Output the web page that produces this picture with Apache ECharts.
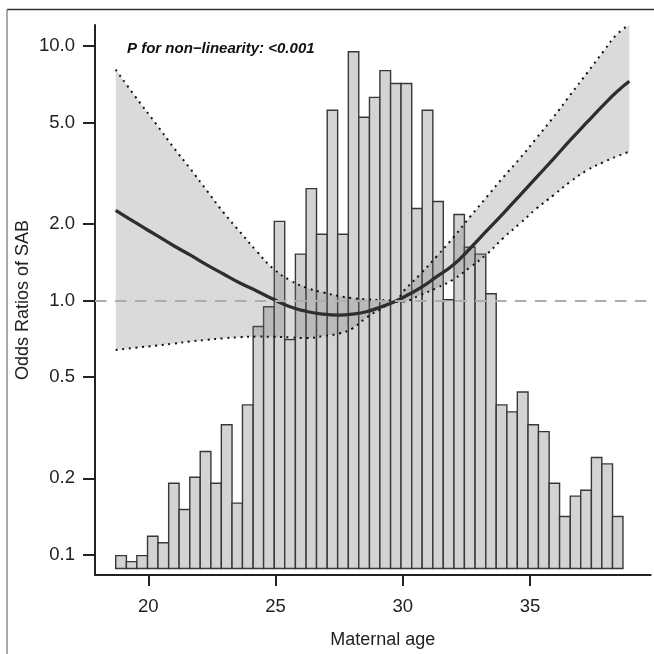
<!DOCTYPE html>
<html>
<head>
<meta charset="utf-8">
<script src="https://cdn.jsdelivr.net/npm/echarts@6/dist/echarts.min.js"></script>
<style>
  html, body { margin: 0; padding: 0; background: #fff; }
  #chart { width: 654px; height: 654px; }
</style>
</head>
<body>
<div id="chart"></div>
<script>
// histogram of maternal age: bin edges (years) and bar heights (relative frequency)
const binEdges = [18.72, 19.14, 19.55, 19.97, 20.38, 20.80, 21.21, 21.63, 22.04, 22.46,
  22.87, 23.29, 23.70, 24.12, 24.53, 24.95, 25.36, 25.78, 26.20, 26.61,
  27.03, 27.44, 27.86, 28.27, 28.69, 29.10, 29.52, 29.93, 30.35, 30.76,
  31.18, 31.59, 32.01, 32.42, 32.84, 33.26, 33.67, 34.09, 34.50, 34.92,
  35.33, 35.75, 36.16, 36.58, 36.99, 37.41, 37.82, 38.24, 38.65];
const binFreq = [13, 7, 13, 32.5, 26, 86, 59.5, 92, 118, 86,
  145, 66, 165, 244, 264, 350, 231, 317, 383, 337,
  462, 337, 521, 455, 475, 502, 489, 489, 363, 462,
  370, 271, 357, 324, 317, 277, 165, 158, 178, 145,
  138, 86, 52.5, 73, 79, 112, 105.5, 52.5];

// spline: odds ratio and 95% CI by maternal age
const splineAge = [18.72, 19.5, 20.33, 21.0, 21.64, 22.3, 22.95, 23.6, 24.26, 24.92,
  25.57, 26.23, 26.88, 27.5, 28.0, 28.6, 29.1, 29.7, 30.03, 30.69,
  31.33, 31.99, 32.64, 33.30, 33.95, 34.61, 35.26, 35.92, 36.57, 37.23,
  37.88, 38.41, 38.90];
const splineOR = [2.26, 2.02, 1.80, 1.64, 1.51, 1.38, 1.27, 1.17, 1.09, 1.01,
  0.945, 0.905, 0.883, 0.876, 0.883, 0.905, 0.94, 0.99, 1.03, 1.12,
  1.24, 1.38, 1.60, 1.88, 2.2, 2.59, 3.05, 3.6, 4.25, 5.0,
  5.85, 6.6, 7.26];
const ciLower = [0.639, 0.652, 0.665, 0.677, 0.69, 0.70, 0.71, 0.717, 0.721, 0.72,
  0.716, 0.712, 0.725, 0.742, 0.775, 0.86, 0.92, 0.985, 0.99, 1.05,
  1.12, 1.21, 1.35, 1.52, 1.76, 2.01, 2.30, 2.59, 2.92, 3.24,
  3.49, 3.68, 3.84];
const ciUpper = [8.06, 6.3, 4.9, 3.98, 3.3, 2.7, 2.22, 1.86, 1.56, 1.33,
  1.2, 1.12, 1.075, 1.04, 1.022, 1.01, 1.004, 1.0, 1.09, 1.27,
  1.49, 1.77, 2.13, 2.55, 3.05, 3.62, 4.35, 5.25, 6.4, 7.8,
  9.5, 11.1, 12.07];

const yTicks = [0.1, 0.2, 0.5, 1, 2, 5, 10];
const xTicks = [20, 25, 30, 35];

const font = "'Liberation Sans', Arial, sans-serif";

function renderChart() {
  const chart = echarts.init(document.getElementById('chart'));
  const dotted = { color: '#111', width: 2, type: [2, 4.6] };
  const option = {
    animation: false,
    textStyle: { fontFamily: font },
    title: {
      text: 'P for non\u2212linearity: <0.001',
      left: 122,
      top: 36,
      textStyle: { fontFamily: font, fontSize: 15, fontWeight: 'bold', fontStyle: 'italic', color: '#111' }
    },
    graphic: [
      { type: 'line', shape: { x1: 7, y1: 9.5, x2: 654, y2: 9.5 }, style: { stroke: '#333', lineWidth: 1.5 } },
      { type: 'line', shape: { x1: 7, y1: 9.5, x2: 7, y2: 654 }, style: { stroke: '#8c8c8c', lineWidth: 1.5 } }
    ],
    grid: { left: 95, right: 3.3, top: 25, bottom: 74.5 },
    xAxis: {
      type: 'value',
      min: 17.906,
      max: 39.74,
      name: 'Maternal age',
      nameLocation: 'middle',
      nameGap: 56,
      nameMoveOverlap: false,
      nameTextStyle: { fontFamily: font, fontSize: 18, color: '#222', padding: [0, 0, 0, 20] },
      axisLine: { onZero: false, lineStyle: { color: '#222', width: 2 } },
      axisTick: { customValues: xTicks, length: 11, lineStyle: { color: '#222', width: 2 } },
      axisLabel: { customValues: xTicks, margin: 22, fontSize: 18.5, color: '#222' },
      splitLine: { show: false }
    },
    yAxis: [
      {
        type: 'log',
        logBase: 10,
        min: 0.08349,
        max: 12.075,
        name: 'Odds Ratios of SAB',
        nameLocation: 'middle',
        nameGap: 63,
        nameMoveOverlap: false,
        nameTextStyle: { fontFamily: font, fontSize: 18, color: '#222' },
        axisLine: { show: true, lineStyle: { color: '#222', width: 2 } },
        axisTick: { show: true, customValues: yTicks, length: 12, lineStyle: { color: '#222', width: 2 } },
        axisLabel: {
          customValues: yTicks,
          margin: 20,
          fontSize: 18.5,
          color: '#222',
          formatter: v => Number(v).toFixed(1)
        },
        splitLine: { show: false }
      },
      {
        type: 'value',
        show: false,
        min: -6.5,
        max: 548,
        splitLine: { show: false }
      }
    ],
    series: [
      {
        name: 'Frequency',
        type: 'custom',
        xAxisIndex: 0,
        yAxisIndex: 1,
        z: 1,
        encode: { x: [0, 1], y: 2 },
        data: binFreq.map((f, i) => [binEdges[i], binEdges[i + 1], f]),
        renderItem: (params, api) => {
          const p0 = api.coord([api.value(0), 0]);
          const p1 = api.coord([api.value(1), api.value(2)]);
          return {
            type: 'rect',
            shape: { x: p0[0], y: p1[1], width: p1[0] - p0[0], height: p0[1] - p1[1] },
            style: { fill: '#d3d3d3', stroke: '#383838', lineWidth: 1.4 }
          };
        }
      },
      {
        // 95% CI band, one polygon through upper then lower bounds
        name: 'CI band',
        type: 'custom',
        xAxisIndex: 0,
        yAxisIndex: 0,
        z: 2,
        silent: true,
        encode: { x: 0, y: 1 },
        data: [[splineAge[0], ciLower[0]]],
        renderItem: (params, api) => {
          const pts = [];
          splineAge.forEach((a, i) => pts.push(api.coord([a, ciUpper[i]])));
          for (let i = splineAge.length - 1; i >= 0; i--) pts.push(api.coord([splineAge[i], ciLower[i]]));
          return {
            type: 'polygon',
            shape: { points: pts },
            style: { fill: 'rgba(120,120,120,0.27)' }
          };
        },
        markLine: {
          silent: true,
          symbol: ['none', 'none'],
          label: { show: false },
          lineStyle: { color: '#adadad', width: 2.2, type: [11.5, 8.5] },
          data: [{ yAxis: 1 }]
        }
      },
      {
        name: 'Lower',
        type: 'line',
        yAxisIndex: 0,
        z: 3,
        smooth: true,
        symbol: 'none',
        data: splineAge.map((a, i) => [a, ciLower[i]]),
        lineStyle: dotted
      },
      {
        name: 'Upper',
        type: 'line',
        yAxisIndex: 0,
        z: 3,
        smooth: true,
        symbol: 'none',
        data: splineAge.map((a, i) => [a, ciUpper[i]]),
        lineStyle: dotted
      },
      {
        name: 'OR',
        type: 'line',
        yAxisIndex: 0,
        z: 4,
        smooth: true,
        symbol: 'none',
        data: splineAge.map((a, i) => [a, splineOR[i]]),
        lineStyle: { color: '#2e2e2e', width: 3.3 }
      }
    ]
  };
  chart.setOption(option, true);
}
renderChart();
</script>
</body>
</html>
